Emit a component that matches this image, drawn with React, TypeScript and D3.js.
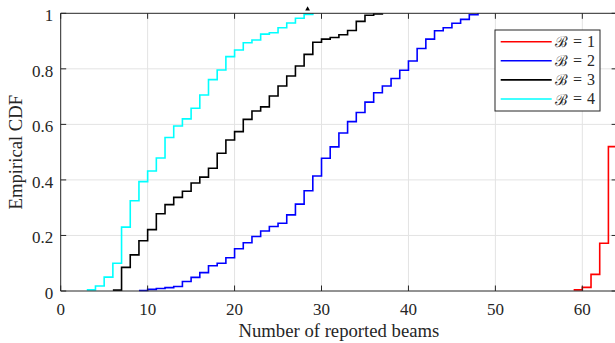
import React from "react";
import * as d3 from "d3";

// Empirical CDF of the number of reported beams, per beam budget B
const beamsB1 = [59, 60, 61, 62, 63, 64];
const cdfB1 = [0.004, 0.013, 0.06, 0.172, 0.52, 0.52];

const beamsB2 = [9, 10, 11, 12, 13, 14, 15, 16, 17, 18, 19, 20, 21, 22, 23, 24, 25, 26, 27, 28, 29, 30, 31, 32, 33, 34, 35, 36, 37, 38, 39, 40, 41, 42, 43, 44, 45, 46, 47, 48];
const cdfB2 = [0.002, 0.006, 0.009, 0.012, 0.016, 0.034, 0.049, 0.066, 0.091, 0.1, 0.12, 0.152, 0.174, 0.196, 0.216, 0.232, 0.244, 0.274, 0.313, 0.361, 0.414, 0.478, 0.519, 0.569, 0.61, 0.643, 0.68, 0.714, 0.738, 0.765, 0.795, 0.828, 0.873, 0.907, 0.937, 0.948, 0.964, 0.978, 0.995, 1.0];

const beamsB3 = [6, 7, 8, 9, 10, 11, 12, 13, 14, 15, 16, 17, 18, 19, 20, 21, 22, 23, 24, 25, 26, 27, 28, 29, 30, 31, 32, 33, 34, 35, 36, 37];
const cdfB3 = [0.003, 0.085, 0.13, 0.181, 0.221, 0.278, 0.311, 0.337, 0.359, 0.389, 0.41, 0.442, 0.496, 0.544, 0.574, 0.618, 0.648, 0.663, 0.702, 0.738, 0.774, 0.81, 0.852, 0.896, 0.907, 0.913, 0.923, 0.938, 0.971, 0.993, 0.998, 1.0];

const beamsB4 = [3, 4, 5, 6, 7, 8, 9, 10, 11, 12, 13, 14, 15, 16, 17, 18, 19, 20, 21, 22, 23, 24, 25, 26, 27, 28, 29];
const cdfB4 = [0.004, 0.018, 0.05, 0.1, 0.23, 0.325, 0.394, 0.432, 0.479, 0.553, 0.594, 0.62, 0.658, 0.706, 0.761, 0.796, 0.844, 0.868, 0.894, 0.904, 0.925, 0.93, 0.948, 0.965, 0.982, 0.996, 1.0];

const seriesNames = ["1", "2", "3", "4"];
const seriesColors = ["#ff0000", "#0000ff", "#000000", "#00ffff"];
const seriesBeams = [beamsB1, beamsB2, beamsB3, beamsB4];
const seriesCdf = [cdfB1, cdfB2, cdfB3, cdfB4];

const xTicks = [0, 10, 20, 30, 40, 50, 60];
const yTicks = [0, 0.2, 0.4, 0.6, 0.8, 1];
const yTickLabels = ["0", "0.2", "0.4", "0.6", "0.8", "1"];

const W = 615;
const H = 343;
const margin = { left: 60.7, top: 13.3, right: 617.1, bottom: 291 };

const axisColor = "#262626";
const gridColor = "#e3e3e3";
const serif = "'Liberation Serif', 'Times New Roman', serif";

export default function App() {
  const x = d3.scaleLinear().domain([0, 64]).range([margin.left, margin.right]);
  const y = d3.scaleLinear().domain([0, 1]).range([margin.bottom, margin.top]);

  const stair = d3
    .line<[number, number]>()
    .x((d) => x(d[0]))
    .y((d) => y(d[1]))
    .curve(d3.curveStepAfter);

  const tickLen = 5.5;

  const legend = { x0: 495, y0: 30, w: 105, h: 81, row0: 41.7, rowStep: 19.1 };

  return (
    <svg
      width={W}
      height={H}
      style={{ position: "absolute", left: 0, top: 0, background: "#fff" }}
    >
      <defs>
        <clipPath id="plotArea">
          <rect x={margin.left} y={margin.top - 2} width={margin.right - margin.left} height={margin.bottom - margin.top + 4} />
        </clipPath>
      </defs>
      <rect x={0} y={0} width={W} height={H} fill="#fff" />

      {/* grid */}
      {xTicks.filter((t) => t > 0).map((t) => (
        <line key={"gx" + t} x1={x(t)} x2={x(t)} y1={y(0)} y2={y(1)} stroke={gridColor} strokeWidth={1} />
      ))}
      {yTicks.filter((t) => t > 0 && t < 1).map((t) => (
        <line key={"gy" + t} x1={x(0)} x2={x(64)} y1={y(t)} y2={y(t)} stroke={gridColor} strokeWidth={1} />
      ))}

      {/* stair curves */}
      <g clipPath="url(#plotArea)">
        {seriesBeams.map((bx, i) => {
          const pts: [number, number][] = bx.map((b, j) => [b, seriesCdf[i][j]]);
          return (
            <path key={"s" + i} d={stair(pts) || ""} fill="none" stroke={seriesColors[i]} strokeWidth={1.6} />
          );
        })}
      </g>

      {/* small marker above the top edge */}
      <path
        d={d3.symbol().type(d3.symbolTriangle).size(10)() || ""}
        transform={`translate(${x(28.4)},${y(1.015)})`}
        fill="#000"
      />

      {/* axes box */}
      <line x1={x(0)} x2={x(64)} y1={y(0)} y2={y(0)} stroke={axisColor} strokeWidth={1} />
      <line x1={x(0)} x2={x(64)} y1={y(1)} y2={y(1)} stroke={axisColor} strokeWidth={1} />
      <line x1={x(0)} x2={x(0)} y1={y(0)} y2={y(1)} stroke={axisColor} strokeWidth={1} />
      <line x1={x(64)} x2={x(64)} y1={y(0)} y2={y(1)} stroke={axisColor} strokeWidth={1} />

      {/* tick marks */}
      {xTicks.map((t) => (
        <g key={"tx" + t}>
          <line x1={x(t)} x2={x(t)} y1={y(0)} y2={y(0) - tickLen} stroke={axisColor} />
          <line x1={x(t)} x2={x(t)} y1={y(1)} y2={y(1) + tickLen} stroke={axisColor} />
        </g>
      ))}
      {yTicks.map((t) => (
        <g key={"ty" + t}>
          <line x1={x(0)} x2={x(0) + tickLen} y1={y(t)} y2={y(t)} stroke={axisColor} />
          <line x1={x(64)} x2={x(64) - tickLen} y1={y(t)} y2={y(t)} stroke={axisColor} />
        </g>
      ))}

      {/* tick labels */}
      {xTicks.map((t) => (
        <text key={"lx" + t} x={x(t)} y={y(0) + 24} textAnchor="middle" fontFamily={serif} fontSize={17} fill={axisColor}>
          {t}
        </text>
      ))}
      {yTicks.map((t, i) => (
        <text key={"ly" + t} x={x(0) - 7.5} y={y(t) + 8} textAnchor="end" fontFamily={serif} fontSize={17} fill={axisColor}>
          {yTickLabels[i]}
        </text>
      ))}

      {/* axis titles */}
      <text x={(x(0) + x(64)) / 2} y={337} textAnchor="middle" fontFamily={serif} fontSize={18.7} fill={axisColor}>
        Number of reported beams
      </text>
      <text
        transform={`translate(22,${(y(0) + y(1)) / 2}) rotate(-90)`}
        textAnchor="middle"
        fontFamily={serif}
        fontSize={18.7}
        fill={axisColor}
      >
        Empirical CDF
      </text>

      {/* legend */}
      <rect x={legend.x0} y={legend.y0} width={legend.w} height={legend.h} fill="#fff" stroke={axisColor} strokeWidth={1} />
      {seriesNames.map((n, i) => {
        const ry = legend.row0 + i * legend.rowStep;
        return (
          <g key={"lg" + i} fill={axisColor}>
            <line x1={500.7} x2={551.7} y1={ry} y2={ry} stroke={seriesColors[i]} strokeWidth={1.6} />
            <text x={555} y={ry + 5.5} fontFamily="'DejaVu Serif', serif" fontSize={15}>ℬ</text>
            <text x={573} y={ry + 5} fontFamily={serif} fontSize={16}>=</text>
            <text x={587} y={ry + 5} fontFamily={serif} fontSize={16}>{n}</text>
          </g>
        );
      })}
    </svg>
  );
}
